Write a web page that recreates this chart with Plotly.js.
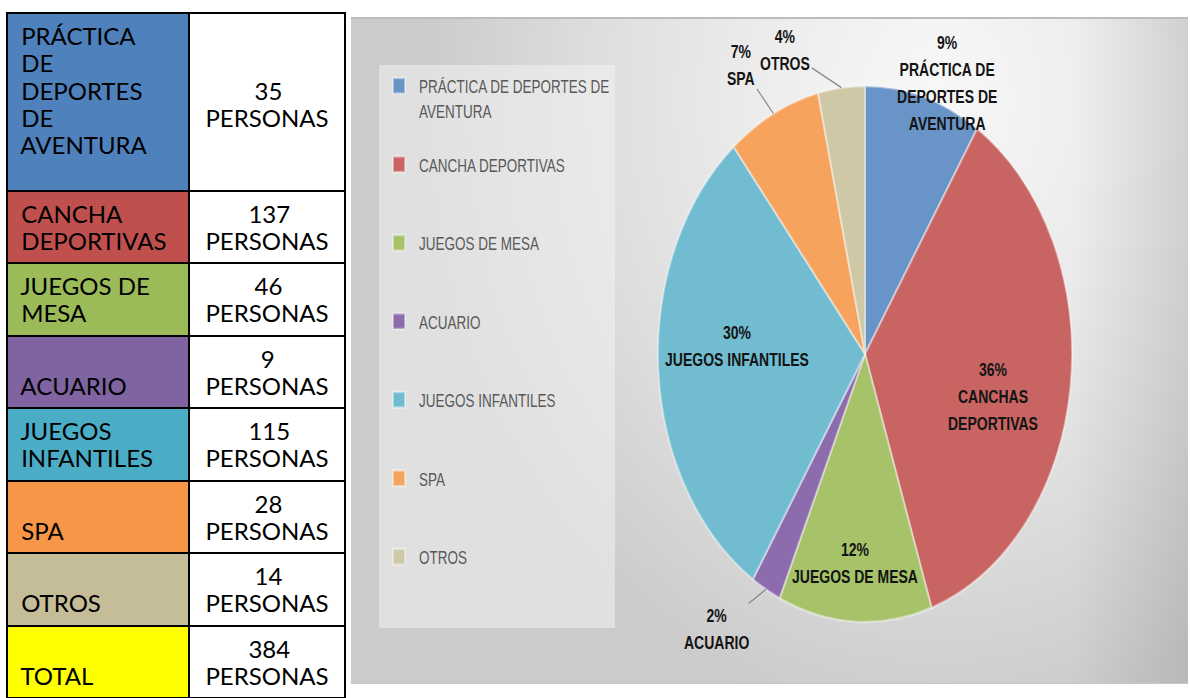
<!DOCTYPE html>
<html>
<head>
<meta charset="utf-8">
<script src="https://cdn.plot.ly/plotly-3.0.1.min.js"></script>
<style>
html, body { margin:0; padding:0; overflow:hidden; background:#ffffff; width:1190px; height:698px; }
#tbl { position:absolute; left:0; top:-16px; width:352px; height:760px; }
#panel { position:absolute; left:351px; top:17px; width:837px; height:667px; box-sizing:border-box;
  border-top:2px solid #bcbcbc; border-bottom:1px solid #c6c6c6;
  background:
    linear-gradient(to right, rgba(0,0,0,0) 86%, rgba(0,0,0,0.09) 100%),
    radial-gradient(ellipse 62% 95% at 70% 12%, #f8f8f8 0%, #ececec 35%, #dddddd 68%, #cbcbcb 100%); }
#chart { position:absolute; left:351px; top:17px; width:837px; height:515px; transform:scaleY(1.295); transform-origin:0 0; }
</style>
</head>
<body>
<div id="tbl"></div>
<div id="panel"></div>
<div id="chart"></div>
<script>
// ---------------- data ----------------
const categories = ['PRÁCTICA DE DEPORTES DE AVENTURA', 'CANCHA DEPORTIVAS', 'JUEGOS DE MESA', 'ACUARIO', 'JUEGOS INFANTILES', 'SPA', 'OTROS'];
const personas = [35, 137, 46, 9, 115, 28, 14];
const totalLabel = 'TOTAL';
const totalPersonas = 384;
const unitLabel = 'PERSONAS';
const tableLabels = ['PRÁCTICA<br>DE<br>DEPORTES<br>DE<br>AVENTURA', 'CANCHA<br>DEPORTIVAS', 'JUEGOS DE<br>MESA', 'ACUARIO', 'JUEGOS<br>INFANTILES', 'SPA', 'OTROS', 'TOTAL'];
const legendLabels = ['PRÁCTICA DE DEPORTES DE<br>AVENTURA', 'CANCHA DEPORTIVAS', 'JUEGOS DE MESA', 'ACUARIO', 'JUEGOS INFANTILES', 'SPA', 'OTROS'];
const sliceLabels = ['PRÁCTICA DE<br>DEPORTES DE<br>AVENTURA', 'CANCHAS<br>DEPORTIVAS', 'JUEGOS DE MESA', 'ACUARIO', 'JUEGOS INFANTILES', 'SPA', 'OTROS'];
const tableColors = ['#4F81BD', '#C0504D', '#9BBB59', '#8064A2', '#4BACC6', '#F79646', '#C4BD97', '#FFFF00'];
const pieColors = ['#6994C8', '#C86462', '#A6C36A', '#8D6CAE', '#71BCD0', '#F6A35D', '#CFC8A7'];

// ---------------- table ----------------
const TFONT = 'Lato';
const ctx = document.createElement('canvas').getContext('2d');
ctx.font = '24px ' + TFONT;
const nbspW = ctx.measureText('\u00a0').width || 5;
function lineCount(s) { return s.split('<br>').length; }
function plain(l) { return l.replace(/&nbsp;/g, '\u00a0'); }
function big(lines) { return lines.map(l => '<span style="font-size:24px">' + l + '</span>').join('<br>'); }
function centerLines(lines) {
  const widths = lines.map(l => ctx.measureText(plain(l)).width);
  const maxW = Math.max.apply(null, widths);
  return lines.map((l, i) => '&nbsp;'.repeat(Math.round((maxW - widths[i]) / 2 / nbspW)) + l);
}
const tableValues = personas.concat([totalPersonas]).map(v => v + '<br>' + unitLabel);
const col1 = [], col2 = [];
tableLabels.forEach((lab, i) => {
  const val = tableValues[i];
  const n = Math.max(lineCount(lab), lineCount(val));
  let l1 = Array(n - lineCount(lab)).fill('&nbsp;').concat(lab.split('<br>').map(s => '&nbsp;' + s));
  let l2 = Array(Math.ceil((n - lineCount(val)) / 2)).fill('&nbsp;').concat(centerLines(val.split('<br>')));
  let c1 = big(l1);
  if (n > 2) c1 += '<br><span style="font-size:6px">&nbsp;</span>';
  col1.push(c1);
  col2.push(big(l2));
});

Plotly.newPlot('tbl', [{
  type: 'table',
  columnwidth: [182, 156],
  header: { values: [], height: 0, line: { width: 0 }, fill: { color: 'rgba(0,0,0,0)' } },
  cells: {
    values: [col1, col2],
    align: ['left', 'center'],
    height: 72.5,
    fill: { color: [tableColors, tableColors.map(() => '#ffffff')] },
    line: { color: '#000000', width: 2 },
    font: { family: 'Lato, "Open Sans", sans-serif', size: 21, color: '#000000' }
  },
  domain: { x: [0, 1], y: [0, 1] }
}], {
  width: 352, height: 760,
  margin: { l: 7, r: 7, t: 13, b: 10 },
  paper_bgcolor: 'rgba(0,0,0,0)'
}, { staticPlot: true, displayModeBar: false });

// ---------------- pie ----------------
const W = 837, H = 515;
const pieDomain = { x: [0.3668, 0.8614], y: [0.0928, 0.8967] };
function pad3(s) {
  const parts = s.split('<br>');
  while (parts.length < 3) parts.push('&nbsp;');
  return parts.map(p => '<span style="font-size:13.5px">' + p + '</span>').join('<br>');
}
const sum = personas.reduce((a, b) => a + b, 0);
let cum = 0;
const midFrac = personas.map(v => { const m = (cum + v / 2) / sum; cum += v; return m; });
const cxp = (pieDomain.x[0] + pieDomain.x[1]) / 2;
const cyp = (pieDomain.y[0] + pieDomain.y[1]) / 2;
const rpx = (pieDomain.x[1] - pieDomain.x[0]) * W / 2;
function tip(i) {
  const th = midFrac[i] * 2 * Math.PI;
  return { x: cxp + rpx * Math.sin(th) / W, y: cyp + rpx * Math.cos(th) / H };
}
// label offsets (px) from each slice's outer mid-point
const labelOffsets = {
  0: { ax: 24, ay: -11, arrow: false },
  1: { ax: -77, ay: 7, arrow: false },
  2: { ax: 0, ay: -45, arrow: false },
  3: { ax: -49, ay: 31, arrow: true },
  4: { ax: 79, ay: -18, arrow: false },
  5: { ax: -32, ay: -37, arrow: true },
  6: { ax: -56, ay: -29, arrow: true }
};
function labelSpan(s) { return s.split('<br>').map(l => '<span style="font-size:14px">' + l + '</span>').join('<br>'); }
const annotations = Object.keys(labelOffsets).map(k => {
  const i = +k, o = labelOffsets[k], t = tip(i);
  const txt = labelSpan(Math.round(100 * personas[i] / sum) + '%<br>' + sliceLabels[i]);
  const a = {
    x: t.x, y: t.y, xref: 'paper', yref: 'paper', text: txt, align: 'center',
    font: { family: '"Liberation Sans", Arial, sans-serif', size: 16, color: '#141414', weight: 'bold' }
  };
  if (o.arrow) {
    Object.assign(a, { showarrow: true, ax: o.ax, ay: o.ay, arrowhead: 0, arrowwidth: 1, arrowcolor: '#808080', standoff: 0 });
  } else {
    Object.assign(a, { showarrow: false, xanchor: 'center', yanchor: 'middle', xshift: o.ax, yshift: -o.ay });
  }
  return a;
});

Plotly.newPlot('chart', [{
  type: 'pie',
  values: personas,
  labels: legendLabels.map(pad3),
  sort: false,
  direction: 'clockwise',
  rotation: 0,
  domain: pieDomain,
  marker: { colors: pieColors, line: { color: 'rgba(255,255,255,0.4)', width: 2 } },
  textinfo: 'none',
  hoverinfo: 'none'
}], {
  width: W, height: H,
  margin: { l: 0, r: 0, t: 0, b: 0 },
  paper_bgcolor: 'rgba(0,0,0,0)',
  plot_bgcolor: 'rgba(0,0,0,0)',
  showlegend: true,
  legend: {
    x: 28 / W, y: 1 - 37 / H, xanchor: 'left', yanchor: 'top',
    bgcolor: 'rgba(243,243,243,0.55)', borderwidth: 0,
    font: { family: '"Liberation Sans", Arial, sans-serif', size: 14.77, color: '#595959' },
    valign: 'top', traceorder: 'normal'
  },
  annotations: annotations
}, { staticPlot: true, displayModeBar: false });
</script>
</body>
</html>
